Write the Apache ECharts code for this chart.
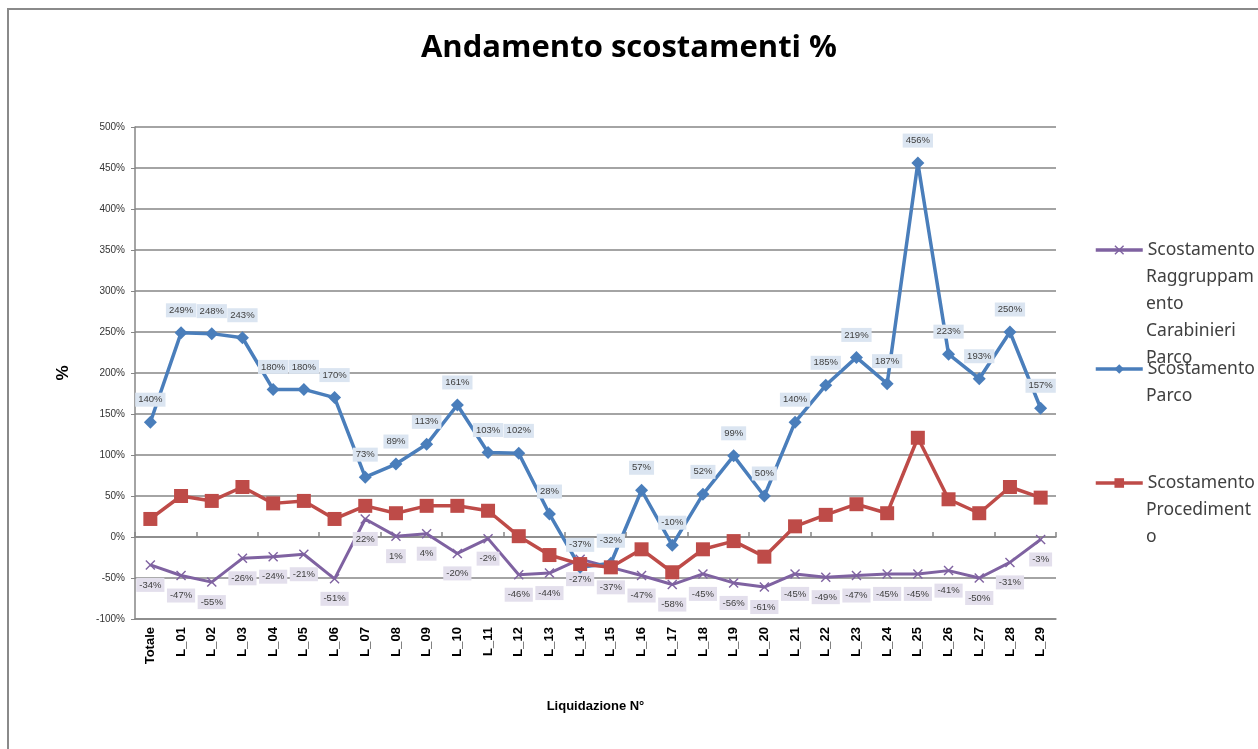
<!DOCTYPE html>
<html><head><meta charset="utf-8">
<script src="https://cdn.jsdelivr.net/npm/echarts@6/dist/echarts.min.js"></script>
<style>html,body{margin:0;padding:0;background:#fff}#c{width:1258px;height:749px}</style>
</head><body><div id="c"></div>
<script>
var categories = ['Totale','L_01','L_02','L_03','L_04','L_05','L_06','L_07','L_08','L_09','L_10','L_11','L_12','L_13','L_14','L_15','L_16','L_17','L_18','L_19','L_20','L_21','L_22','L_23','L_24','L_25','L_26','L_27','L_28','L_29'];
var carabinieri = [-34,-47,-55,-26,-24,-21,-51,22,1,4,-20,-2,-46,-44,-27,-37,-47,-58,-45,-56,-61,-45,-49,-47,-45,-45,-41,-50,-31,-3];
var parco = [140,249,248,243,180,180,170,73,89,113,161,103,102,28,-37,-32,57,-10,52,99,50,140,185,219,187,456,223,193,250,157];
var procedimento = [22,50,44,61,41,44,22,38,29,38,38,32,1,-22,-33,-37,-15,-43,-15,-5,-24,13,27,40,29,121,46,29,61,48];
var yTicks = {min:-100, max:500, interval:50};
var seriesNames = ['Scostamento Raggruppamento Carabinieri Parco','Scostamento Parco','Scostamento Procedimento'];
var legendLines = [['Scostamento','Raggruppam','ento','Carabinieri','Parco'],['Scostamento','Parco'],['Scostamento','Procediment','o']];

var FONT = '"Liberation Sans", Arial, sans-serif';
var LFONT = '"Noto Sans", sans-serif';
var crossPath = 'path://M0,1 L1,0 L5,4 L9,0 L10,1 L6,5 L10,9 L9,10 L5,6 L1,10 L0,9 L4,5 Z';
var chart = echarts.init(document.getElementById('c'));
function pct(p){ return p.value + '%'; }

var legendTops = [250, 369, 483];
var LH = 27;
var legends = [], graphics = [{type:'polyline', shape:{points:[[8,760],[8,9],[1270,9]]}, style:{stroke:'#8a8a8a', lineWidth:2, fill:null}}];
legendLines.forEach(function(lines, i){
  legends.push({orient:'vertical', left:1094, top:legendTops[i]-13.5, padding:0, itemWidth:47, itemHeight:12, itemGap:0,
    data:[seriesNames[i]], formatter:function(){return lines[0];},
    lineStyle:{width:3.5},
    textStyle:{fontFamily:LFONT, fontSize:17.5, color:'#404040', lineHeight:LH}});
  for (var k=1; k<lines.length; k++){
    graphics.push({type:'text', left:1146, top:legendTops[i] + k*LH - LH/2, silent:true,
      style:{text:lines[k], font:'17.5px ' + LFONT, fill:'#404040', lineHeight:LH, verticalAlign:'top'}});
  }
});

chart.setOption({
  animation:false,
  backgroundColor:'#fff',
  title:{text:'Andamento scostamenti %', left:'center', top:28,
    textStyle:{fontFamily:'"Open Sans", sans-serif', fontSize:31, fontWeight:'bold', color:'#000'}},
  graphic:graphics,
  legend:legends,
  grid:{left:135, right:202, top:127, bottom:130, containLabel:false},
  xAxis:[{
    type:'category', data:categories, boundaryGap:true,
    name:'Liquidazione N°', nameLocation:'middle', nameGap:81,
    nameTextStyle:{fontFamily:FONT, fontSize:13, fontWeight:'bold', color:'#000'},
    axisLine:{onZero:false, lineStyle:{color:'#868686', width:1.5}},
    axisTick:{show:false},
    axisLabel:{rotate:90, interval:0, margin:8, fontFamily:FONT, fontSize:13, fontWeight:'bold', color:'#000'}
  },{
    type:'category', data:categories, boundaryGap:true,
    axisLine:{onZero:true, lineStyle:{color:'#868686', width:1.5}},
    axisTick:{show:true, length:5, lineStyle:{color:'#868686', width:1.5}},
    axisLabel:{show:false}
  }],
  yAxis:{
    type:'value', min:yTicks.min, max:yTicks.max, interval:yTicks.interval,
    name:'%', nameLocation:'middle', nameGap:63, nameRotate:90,
    nameTextStyle:{fontFamily:FONT, fontSize:17, fontWeight:'bold', color:'#000'},
    axisLine:{show:true, lineStyle:{color:'#868686', width:1.5}},
    axisTick:{show:true, length:4, lineStyle:{color:'#868686'}},
    axisLabel:{formatter:'{value}%', fontFamily:FONT, fontSize:10, color:'#333', margin:10},
    splitLine:{lineStyle:{color:'#868686', width:1.5}}
  },
  series:[
    {name:seriesNames[0], type:'line', data:carabinieri,
     symbol:crossPath, symbolSize:10, lineStyle:{color:'#7f62a1', width:3}, itemStyle:{color:'#7f62a1'},
     label:{show:true, position:'bottom', distance:8, formatter:pct, fontFamily:FONT, fontSize:9.5, color:'#404040',
       backgroundColor:'#e3dfec', padding:[2,3]}, z:3},
    {name:seriesNames[1], type:'line', data:parco,
     symbol:'diamond', symbolSize:13, lineStyle:{color:'#4a7ebb', width:3.5}, itemStyle:{color:'#4a7ebb'},
     label:{show:true, position:'top', distance:9, formatter:pct, fontFamily:FONT, fontSize:9.5, color:'#404040',
       backgroundColor:'#dbe5f1', padding:[2,3]}, z:4},
    {name:seriesNames[2], type:'line', data:procedimento,
     symbol:'rect', symbolSize:14, lineStyle:{color:'#be4b48', width:3.5}, itemStyle:{color:'#be4b48'}, z:5}
  ]
});
</script></body></html>
